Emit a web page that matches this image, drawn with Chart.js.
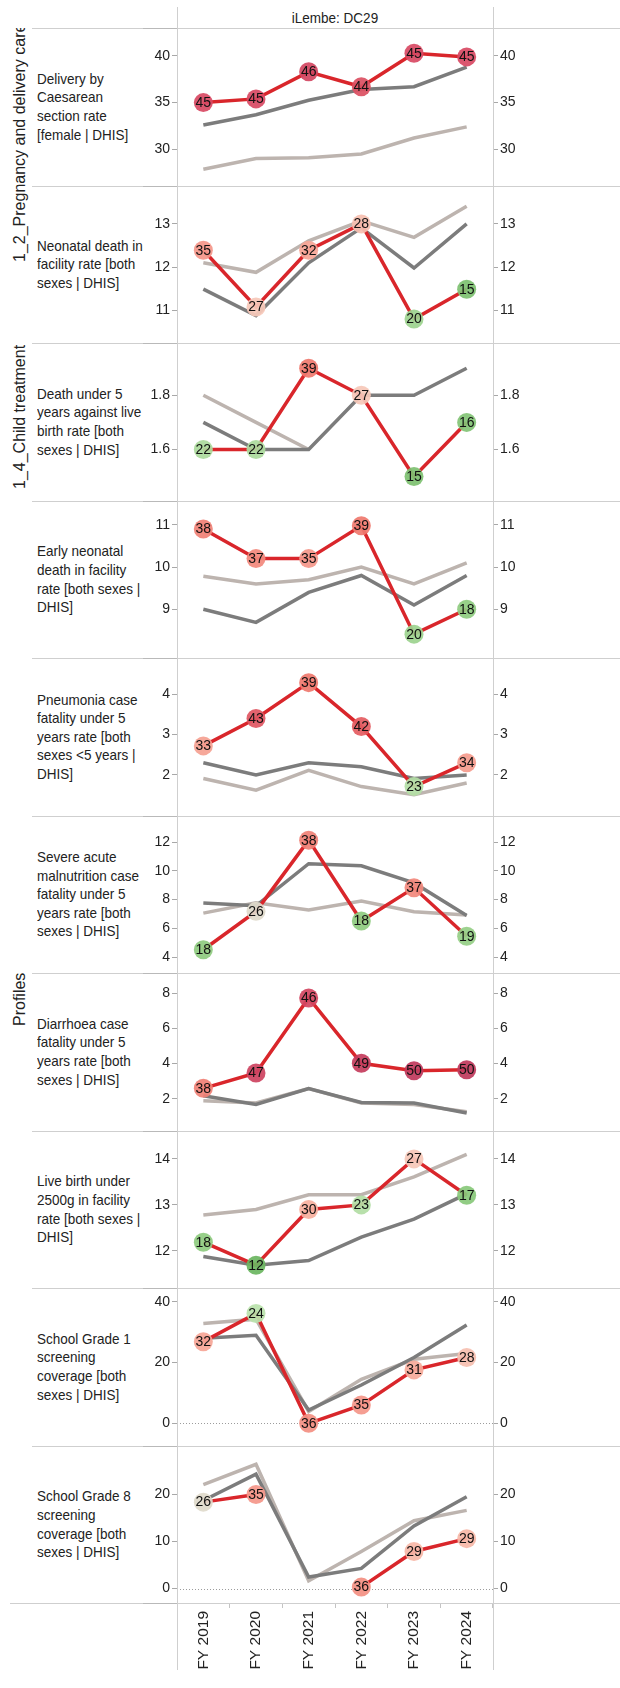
<!DOCTYPE html>
<html><head><meta charset="utf-8">
<script src="https://cdn.jsdelivr.net/npm/chart.js@4.4.1/dist/chart.umd.min.js"></script>
<style>
html,body{margin:0;padding:0;background:#fff;}
#wrap{position:relative;width:620px;height:1688px;overflow:hidden;font-family:"Liberation Sans",Arial,sans-serif;color:#222;background:#fff;}
#wrap canvas{position:absolute;left:0;}
.rl{position:absolute;left:37px;width:140px;display:flex;align-items:center;}
.rl span{display:block;font-size:15px;line-height:18.6px;white-space:nowrap;transform:scaleX(0.9);transform-origin:left center;color:#222;}
.hl{position:absolute;height:1px;background:#cfcfcf;z-index:3;}
.hd{position:absolute;height:1px;background:#b9b9b9;z-index:3;}
.vl{position:absolute;width:1px;background:#cfcfcf;z-index:3;}
.grp{position:absolute;font-size:16px;line-height:16px;white-space:nowrap;transform-origin:0 0;transform:rotate(-90deg);color:#222;}
#hdr{position:absolute;left:177px;width:316px;top:10px;text-align:center;font-size:15px;line-height:16px;transform:scaleX(0.9);color:#222;}
</style></head>
<body><div id="wrap"><div id="hdr">iLembe: DC29</div></div>
<script>
// ---------- DATA ----------
const YEARS = ['FY 2019','FY 2020','FY 2021','FY 2022','FY 2023','FY 2024'];
const HEADER = 'iLembe: DC29';
const GROUPS = ['1_2_Pregnancy and delivery care','1_4_Child treatment','Profiles'];
const INDICATORS = [
  'Delivery by\nCaesarean\nsection rate\n[female | DHIS]',
  'Neonatal death in\nfacility rate [both\nsexes | DHIS]',
  'Death under 5\nyears against live\nbirth rate [both\nsexes | DHIS]',
  'Early neonatal\ndeath in facility\nrate [both sexes |\nDHIS]',
  'Pneumonia case\nfatality under 5\nyears rate [both\nsexes <5 years |\nDHIS]',
  'Severe acute\nmalnutrition case\nfatality under 5\nyears rate [both\nsexes | DHIS]',
  'Diarrhoea case\nfatality under 5\nyears rate [both\nsexes | DHIS]',
  'Live birth under\n2500g in facility\nrate [both sexes |\nDHIS]',
  'School Grade 1\nscreening\ncoverage [both\nsexes | DHIS]',
  'School Grade 8\nscreening\ncoverage [both\nsexes | DHIS]'
];
const DISTRICT = [
  [35.0,35.4,38.3,36.7,40.3,39.9],
  [12.39,11.08,12.39,13.0,10.8,11.49],
  [1.6,1.6,1.9,1.8,1.5,1.7],
  [10.9,10.2,10.2,10.98,8.41,9.0],
  [2.72,3.4,4.29,3.2,1.71,2.3],
  [4.51,7.18,12.14,6.51,8.82,5.45],
  [2.6,3.47,7.72,4.02,3.6,3.65],
  [12.19,11.69,12.9,13.0,14.0,13.21],
  [26.9,36.2,0.0,6.0,17.6,21.7],
  [18.36,20.0,null,0.3,7.87,10.6]
];
const PROVINCE = [
  [32.6,33.7,35.25,36.4,36.7,38.8],
  [11.49,10.88,12.1,12.91,11.98,13.0],
  [1.7,1.6,1.6,1.8,1.8,1.9],
  [9.0,8.69,9.4,9.8,9.1,9.8],
  [2.3,2.0,2.3,2.2,1.91,2.0],
  [7.76,7.57,10.5,10.35,9.16,6.9],
  [2.18,1.68,2.58,1.8,1.77,1.2],
  [11.88,11.69,11.79,12.3,12.69,13.24],
  [28.0,29.0,4.35,12.6,21.7,32.4],
  [18.7,24.3,2.43,4.26,13.3,19.5]
];
const NATIONAL = [
  [27.86,29.0,29.08,29.5,31.2,32.4],
  [12.1,11.88,12.61,13.07,12.69,13.41],
  [1.8,1.7,1.6,null,null,null],
  [9.78,9.6,9.7,10.0,9.6,10.1],
  [1.91,1.62,2.11,1.71,1.51,1.8],
  [7.06,7.78,7.27,7.9,7.16,6.92],
  [1.9,1.77,2.58,1.77,1.68,1.27],
  [12.78,12.9,13.22,13.22,13.61,14.1],
  [32.85,34.3,3.9,14.5,21.1,23.0],
  [22.1,26.4,1.64,7.87,14.4,16.6]
];
const RANKS = [
  [45,45,46,44,45,45],
  [35,27,32,28,20,15],
  [22,22,39,27,15,16],
  [38,37,35,39,20,18],
  [33,43,39,42,23,34],
  [18,26,38,18,37,19],
  [38,47,46,49,50,50],
  [18,12,30,23,27,17],
  [32,24,36,35,31,28],
  [26,35,null,36,29,29]
];
const Y_TICKS = [
  [30,35,40],[11,12,13],[1.6,1.8],[9,10,11],[2,3,4],
  [4,6,8,10,12],[2,4,6,8],[12,13,14],[0,20,40],[0,10,20]
];
const Y_RANGE = [
  [27.08,41.98],[10.465,13.657],[1.445,1.958],[8.07,11.34],[1.215,4.666],
  [3.55,13.16],[0.718,8.6],[11.4,14.4],[-4.35,41.45],[-3.08,28.27]
];

// ---------- STYLE ----------
const FONT = '"Liberation Sans", Arial, sans-serif';
const RED = '#d9262b', DARK = '#7c7c7c', LIGHT = '#bdb4af';
const STOPS = [[12,[108,182,97]],[18,[143,203,128]],[24,[186,226,172]],[26,[224,218,203]],[27,[246,200,185]],[30,[247,176,159]],[35,[244,151,138]],[39,[239,122,111]],[42,[228,94,98]],[45,[216,74,100]],[50,[192,58,92]]];
function rankColor(r){
  if(r==null) return 'rgba(0,0,0,0)';
  let a=STOPS[0], b=STOPS[STOPS.length-1];
  if(r<=a[0]) b=a; else if(r>=b[0]) a=b; else {
    for(let i=0;i<STOPS.length-1;i++){ if(r>=STOPS[i][0] && r<=STOPS[i+1][0]){a=STOPS[i];b=STOPS[i+1];break;} }
  }
  const t = (b[0]===a[0])?0:(r-a[0])/(b[0]-a[0]);
  const c = a[1].map((v,k)=>Math.round(v+(b[1][k]-v)*t));
  return `rgba(${c[0]},${c[1]},${c[2]},0.93)`;
}

const ROW_TOP0 = 28, ROW_H = 157.5, N = INDICATORS.length;
const tops = []; for(let i=0;i<=N;i++) tops.push(Math.round(ROW_TOP0 + i*ROW_H));
const wrap = document.getElementById('wrap');

function addDiv(cls, css, html){ const d=document.createElement('div'); if(cls) d.className=cls; Object.assign(d.style, css); if(html!=null) d.textContent=html; wrap.appendChild(d); return d; }

// separators
for(let i=0;i<=N;i++){
  addDiv('hl',{top:tops[i]+'px',left:(i===N?10:32)+'px',width:(i===N?610:588)+'px'});
  addDiv('hd',{top:tops[i]+'px',left:'143px',width:'34px'});
}
addDiv('vl',{left:'177px',top:'7px',height:'1663px'});
addDiv('vl',{left:'493px',top:'7px',height:'1663px'});

// row labels
INDICATORS.forEach((t,i)=>{
  const d = addDiv('rl',{top:tops[i]+'px',height:(tops[i+1]-tops[i])+'px'});
  const s = document.createElement('span');
  t.split('\n').forEach((line,k)=>{ if(k) s.appendChild(document.createElement('br')); s.appendChild(document.createTextNode(line)); });
  d.appendChild(s);
});

// group labels (rotated)
const clip = addDiv('', {position:'absolute',left:'0px',top:tops[0]+'px',width:'32px',height:(tops[2]-tops[0])+'px',overflow:'hidden'});
const g1 = document.createElement('div'); g1.className='grp'; g1.textContent=GROUPS[0]; Object.assign(g1.style,{left:'11.5px',top:(262-tops[0])+'px'}); clip.appendChild(g1);
addDiv('grp',{left:'11.5px',top:'489px'},GROUPS[1]);
addDiv('grp',{left:'11.5px',top:'1026px'},GROUPS[2]);

// plugins
const circleLabels = {
  id:'circleLabels',
  afterDatasetsDraw(chart, args, opts){
    const meta = chart.getDatasetMeta(0), ranks = opts.ranks || [], ctx = chart.ctx;
    ctx.save();
    ctx.font = '14px ' + FONT; ctx.fillStyle = '#111';
    ctx.textAlign = 'center'; ctx.textBaseline = 'middle';
    meta.data.forEach((pt,i)=>{
      if(ranks[i]==null || pt.skip) return;
      ctx.fillText(String(ranks[i]), pt.x, pt.y+0.5, 17);
    });
    ctx.restore();
  }
};
const zeroLine = {
  id:'zeroLine',
  beforeDatasetsDraw(chart){
    const y = chart.scales.y, a = chart.chartArea;
    if(!(y.min < 0 && y.max > 0)) return;
    const py = Math.round(y.getPixelForValue(0)) + 0.5, ctx = chart.ctx;
    ctx.save(); ctx.strokeStyle='#9c9c9c'; ctx.lineWidth=1; ctx.setLineDash([1,2]);
    ctx.beginPath(); ctx.moveTo(a.left, py); ctx.lineTo(a.right, py); ctx.stroke(); ctx.restore();
  }
};

function fmt(v){ return (Math.round(v*100)/100).toString(); }

for(let i=0;i<N;i++){
  const last = i===N-1;
  const top = tops[i], h = (last?1688:tops[i+1]) - top;
  const cv = document.createElement('canvas');
  cv.width = 620; cv.height = h; cv.style.top = top+'px'; cv.style.width='620px'; cv.style.height=h+'px';
  wrap.appendChild(cv);
  const ticks = Y_TICKS[i], rng = Y_RANGE[i];
  const yAxis = (pos, w) => ({
    type:'linear', position:pos, min:rng[0], max:rng[1],
    afterBuildTicks(s){ s.ticks = ticks.map(v=>({value:v})); },
    afterFit(s){ s.width = w; s.paddingTop = 0; s.paddingBottom = 0; },
    grid:{drawOnChartArea:false, drawTicks:true, tickLength:5, tickColor:'#a8a8a8', tickWidth:1},
    border:{display:false},
    ticks:{padding:2, font:{family:FONT, size:14}, color:'#222', callback:v=>fmt(v)}
  });
  new Chart(cv, {
    type:'line',
    data:{labels:YEARS, datasets:[
      {data:DISTRICT[i], borderColor:RED, borderWidth:3.5, tension:0, spanGaps:false, clip:false,
       pointRadius:9.5, pointHoverRadius:9.5, pointBorderWidth:0, pointBackgroundColor:RANKS[i].map(rankColor)},
      {data:PROVINCE[i], borderColor:DARK, borderWidth:3.5, tension:0, pointRadius:0, clip:false},
      {data:NATIONAL[i], borderColor:LIGHT, borderWidth:3.5, tension:0, pointRadius:0, clip:false}
    ]},
    options:{
      responsive:false, animation:false, events:[], devicePixelRatio:1,
      layout:{padding:0},
      plugins:{legend:{display:false}, tooltip:{enabled:false}, circleLabels:{ranks:RANKS[i]}},
      scales:{
        x:{type:'category', offset:true, display:last,
           grid:{offset:true, drawOnChartArea:false, tickLength:5, tickColor:'#c4c4c4'},
           border:{display:false},
           ticks:{minRotation:90, maxRotation:90, autoSkip:false, padding:3, font:{family:FONT, size:15.5}, color:'#222'},
           afterFit(s){ if(last){ s.height = 1688-1603; } else { s.height = 0; } s.paddingLeft=0; s.paddingRight=0; }},
        y: yAxis('left', 177),
        y2: yAxis('right', 620-493)
      }
    },
    plugins:[circleLabels, zeroLine]
  });
}
</script></body></html>
